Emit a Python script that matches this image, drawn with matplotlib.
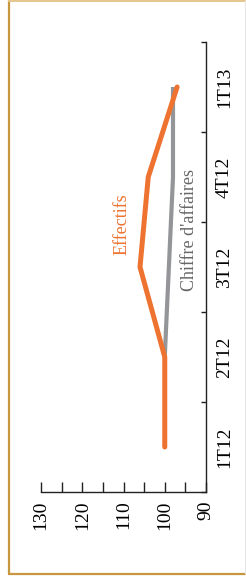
import numpy as np
import matplotlib
matplotlib.use("Agg")
import matplotlib.pyplot as plt
from matplotlib.lines import Line2D

categories = ["1T12", "2T12", "3T12", "4T12", "1T13"]
effectifs = [100, 100, 106, 104, 97]
chiffre_affaires = [np.nan, 100, 99, 98, 98]
value_ticks = [90, 100, 110, 120, 130]

plt.rcParams['font.family'] = ['Liberation Serif', 'DejaVu Serif']

W, H = 246, 584
fig = plt.figure(figsize=(W / 100, H / 100), dpi=100)
fig.patch.set_facecolor('white')

ax = fig.add_axes([41 / W, (H - 492) / H, (206 - 41) / W, (492 - 42) / H])
ax.set_facecolor('none')

pos = np.arange(len(categories))
ax.plot(chiffre_affaires, pos, color='#939598', lw=3.0, solid_capstyle='butt', zorder=3)
ax.plot(effectifs, pos, color='#EE7331', lw=3.6, solid_capstyle='round',
        solid_joinstyle='miter', zorder=4)

ax.set_xlim(130, 90)
ax.set_ylim(-0.5, len(categories) - 0.5)

for s in ['top', 'left']:
    ax.spines[s].set_visible(False)
for s in ['right', 'bottom']:
    ax.spines[s].set_color('#222222')
    ax.spines[s].set_linewidth(1.0)

# value axis (bottom)
ax.set_xticks(value_ticks)
ax.set_xticklabels([str(v) for v in value_ticks])
ax.set_xticks(np.arange(95, 130, 10), minor=True)
ax.tick_params(axis='x', which='both', direction='in', length=7.5, width=1.0,
               color='#222222', labelsize=14, pad=6, labelrotation=90)

# category axis (right)
ax.yaxis.tick_right()
ax.set_yticks(np.arange(-0.5, len(categories), 1.0))
ax.set_yticklabels([])
ax.set_yticks(pos, minor=True)
ax.set_yticklabels(categories, minor=True)
ax.tick_params(axis='y', which='major', direction='in', length=3.5, width=1.0,
               color='#222222', right=True, left=False)
ax.tick_params(axis='y', which='minor', length=0, labelsize=14, pad=7,
               right=True, left=False, labelright=True, labelleft=False)
for lab in ax.get_yticklabels(minor=True):
    lab.set_rotation(90)
    lab.set_va('center')
    lab.set_ha('left')

ax.text(110.4, 2.48, "Effectifs", rotation=90, color='#EE7331', fontsize=13,
        ha='center', va='center')
ax.text(94.0, 2.41, "Chiffre d'affaires", rotation=90, color='#666666', fontsize=13,
        ha='center', va='center')

# frame
def fl(x0, y0, x1, y1, c, lw):
    fig.add_artist(Line2D([x0 / W, x1 / W], [1 - y0 / H, 1 - y1 / H],
                          transform=fig.transFigure, color=c, lw=lw,
                          solid_capstyle='butt'))

fl(8.5, 0, 8.5, 574, '#C8963E', 1.6)
fl(8, 0.8, 246, 0.8, '#E6C68C', 1.4)
fl(8, 573.5, 246, 573.5, '#C8963E', 1.6)
fl(245.3, 0, 245.3, 574, '#E6E6E6', 0.8)

fig.savefig("out.png", dpi=100)
